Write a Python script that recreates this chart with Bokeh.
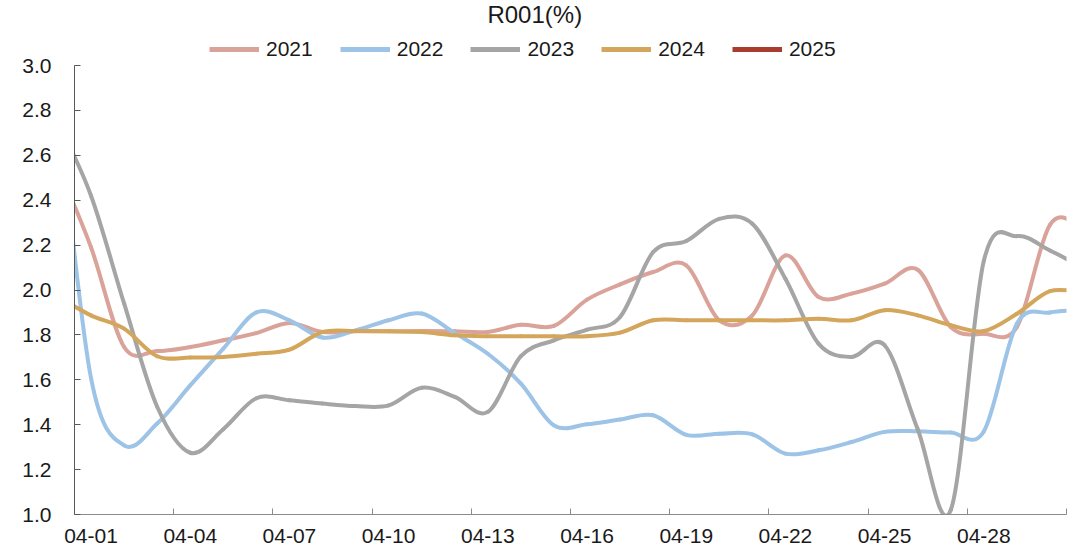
import numpy as np
from bokeh.plotting import figure
from bokeh.models import (FixedTicker, LinearAxis, Legend, LegendItem, Range1d,
                          ColumnDataSource, NumeralTickFormatter, Label)
from bokeh.embed import file_html
from bokeh.resources import INLINE

# ---- data (day index 0 = 04-01; first/last points lie just outside the visible axis) ----
DATES = ["03-31", "04-01", "04-02", "04-03", "04-04", "04-05", "04-06", "04-07", "04-08",
         "04-09", "04-10", "04-11", "04-12", "04-13", "04-14", "04-15", "04-16", "04-17",
         "04-18", "04-19", "04-20", "04-21", "04-22", "04-23", "04-24", "04-25", "04-26",
         "04-27", "04-28", "04-29", "04-30", "05-01"]

R2021 = [2.55, 2.19, 1.746, 1.728, 1.746, 1.776, 1.808, 1.853, 1.813, 1.816, 1.816, 1.817,
         1.816, 1.813, 1.845, 1.840, 1.957, 2.025, 2.080, 2.110, 1.865, 1.887, 2.154, 1.969,
         1.984, 2.028, 2.090, 1.835, 1.805, 1.835, 2.29, 2.29]
R2022 = [2.82, 1.607, 1.308, 1.405, 1.575, 1.739, 1.900, 1.865, 1.788, 1.820, 1.865, 1.895,
         1.808, 1.716, 1.583, 1.397, 1.402, 1.423, 1.442, 1.355, 1.360, 1.357, 1.271, 1.286,
         1.323, 1.368, 1.371, 1.365, 1.370, 1.850, 1.900, 1.91]
R2023 = [2.75, 2.42, 1.94, 1.48, 1.275, 1.38, 1.518, 1.509, 1.494, 1.483, 1.486, 1.565,
         1.524, 1.457, 1.705, 1.776, 1.823, 1.880, 2.169, 2.218, 2.317, 2.295, 2.050, 1.761,
         1.702, 1.754, 1.38, 1.02, 2.13, 2.24, 2.176, 2.10]
R2024 = [1.97, 1.887, 1.828, 1.705, 1.699, 1.702, 1.716, 1.734, 1.813, 1.817, 1.816, 1.813,
         1.798, 1.794, 1.794, 1.794, 1.794, 1.810, 1.865, 1.865, 1.865, 1.865, 1.865, 1.872,
         1.865, 1.910, 1.887, 1.843, 1.817, 1.894, 1.995, 1.99]
R2025 = []

YEARS = ["2021", "2022", "2023", "2024", "2025"]
SERIES = [R2021, R2022, R2023, R2024, R2025]
COLORS = ["#DAA39A", "#9DC3E6", "#A5A5A5", "#D4A65C", "#A83C2E"]

TICK_LABELS = ["04-01", "04-04", "04-07", "04-10", "04-13", "04-16", "04-19", "04-22",
               "04-25", "04-28"]
Y_TICKS = [1.0, 1.2, 1.4, 1.6, 1.8, 2.0, 2.2, 2.4, 2.6, 2.8, 3.0]
TITLE = "R001(%)"

FONT = "Liberation Sans"
TXT = "#1a1a1a"

x_all = np.arange(len(DATES)) - 1  # category index, 04-01 -> 0


def smooth_segments(xs, ys):
    """Bezier segments (Excel-style smoothed line) through the data points."""
    xs = np.asarray(xs, float)
    ys = np.asarray(ys, float)
    n = len(xs)
    d = dict(x0=[], y0=[], x1=[], y1=[], cx0=[], cy0=[], cx1=[], cy1=[])
    for k in range(n - 1):
        a = k - 1 if k > 0 else k
        b = k + 2 if k + 2 < n else k + 1
        m0 = (ys[k + 1] - ys[a]) / (xs[k + 1] - xs[a])
        m1 = (ys[b] - ys[k]) / (xs[b] - xs[k])
        h = xs[k + 1] - xs[k]
        d["x0"].append(xs[k]); d["y0"].append(ys[k])
        d["x1"].append(xs[k + 1]); d["y1"].append(ys[k + 1])
        d["cx0"].append(xs[k] + h / 3); d["cy0"].append(ys[k] + m0 * h / 3)
        d["cx1"].append(xs[k + 1] - h / 3); d["cy1"].append(ys[k + 1] - m1 * h / 3)
    return ColumnDataSource(d)


# ---- geometry (canvas pixels) ----
W, H = 1080, 554
BORDER_L, BORDER_R, BORDER_B = 74, 14, 40
AXIS_TOP_PX = 65                     # where the value 3.0 sits
frame_h = H - BORDER_B
ppu = (frame_h - AXIS_TOP_PX) / (Y_TICKS[-1] - Y_TICKS[0])
y_top = Y_TICKS[-1] + AXIS_TOP_PX / ppu

p = figure(width=W, height=H, output_backend="svg", toolbar_location=None,
           title_location=None, x_range=Range1d(-0.5, 29.5),
           y_range=Range1d(Y_TICKS[0], y_top),
           min_border_left=BORDER_L, min_border_right=BORDER_R, min_border_top=0,
           min_border_bottom=BORDER_B)
p.outline_line_color = None
p.xgrid.visible = False
p.ygrid.visible = False
p.background_fill_color = "white"

# ---- axes ----
yax = p.yaxis[0]
yax.ticker = FixedTicker(ticks=Y_TICKS)
yax.bounds = (Y_TICKS[0], Y_TICKS[-1])
yax.formatter = NumeralTickFormatter(format="0.0")
yax.axis_line_color = "#595959"
yax.major_tick_line_color = "#595959"
yax.major_tick_in = 6
yax.major_tick_out = 0
yax.minor_tick_line_color = None
yax.major_label_text_font = FONT
yax.major_label_text_font_size = "21px"
yax.major_label_text_color = TXT
yax.major_label_standoff = 23

xax = p.xaxis[0]
xax.ticker = FixedTicker(ticks=[-0.5 + 3 * k for k in range(11)])
xax.axis_line_color = "#8C8C8C"
xax.major_tick_line_color = "#8C8C8C"
xax.major_tick_in = 6
xax.major_tick_out = 0
xax.minor_tick_line_color = None
xax.major_label_overrides = {-0.5 + 3 * k: "" for k in range(11)}
xax.major_label_text_font_size = "1px"
xax.major_label_standoff = 0

label_pos = [DATES.index(t) - 1 for t in TICK_LABELS]
xlab = LinearAxis(ticker=FixedTicker(ticks=label_pos),
                  major_label_overrides={pos: t for pos, t in zip(label_pos, TICK_LABELS)},
                  axis_line_color=None, major_tick_line_color=None, minor_tick_line_color=None,
                  major_tick_in=0, major_tick_out=0, major_label_standoff=14,
                  major_label_text_font=FONT, major_label_text_font_size="21px",
                  major_label_text_color=TXT)
p.add_layout(xlab, "below")

# ---- series ----
items = []
for year, vals, col in zip(YEARS, SERIES, COLORS):
    if len(vals) > 1:
        src = smooth_segments(x_all[:len(vals)], vals)
        p.bezier(x0="x0", y0="y0", x1="x1", y1="y1", cx0="cx0", cy0="cy0",
                 cx1="cx1", cy1="cy1", source=src, line_color=col, line_width=4,
                 line_cap="round")
    # legend swatch: a renderer holding a single undefined point (draws nothing on the plot)
    swatch = p.line(x=[np.nan], y=[np.nan], line_color=col, line_width=5)
    items.append(LegendItem(label=year, renderers=[swatch]))

legend = Legend(items=items, orientation="horizontal", location=(135, frame_h - 61),
                glyph_width=50, glyph_height=20, label_standoff=7, spacing=27,
                padding=0, margin=0, border_line_color=None, background_fill_alpha=0,
                label_text_font=FONT, label_text_font_size="21px",
                label_text_color=TXT)
p.add_layout(legend, "center")

# title, centred over the chart area (placed in the blank band above the 3.0 line)
title_x = 13.42
title_y = Y_TICKS[-1] + (AXIS_TOP_PX - 14) / ppu
p.add_layout(Label(x=title_x, y=title_y, text=TITLE, text_align="center",
                   text_baseline="middle", text_font=FONT, text_font_size="24px",
                   text_color=TXT))

open("out.html", "w").write(file_html(p, INLINE))
